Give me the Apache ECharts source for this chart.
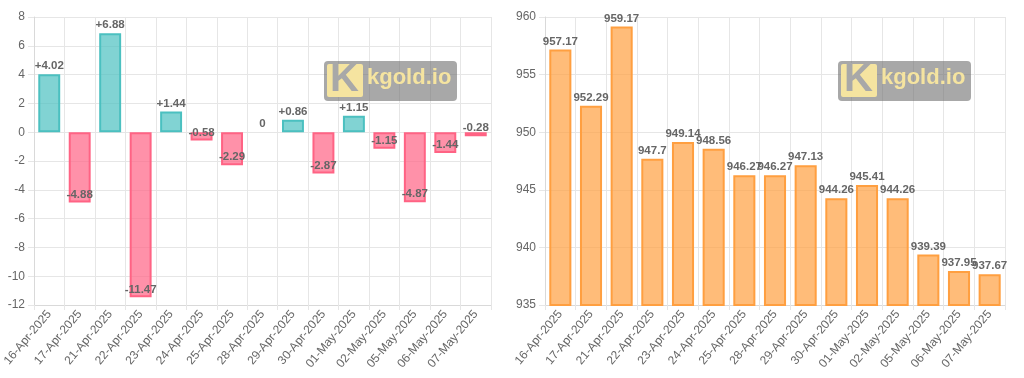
<!DOCTYPE html>
<html>
<head>
<meta charset="utf-8">
<script src="https://cdn.jsdelivr.net/npm/echarts@6/dist/echarts.min.js"></script>
<style>html,body{margin:0;padding:0;background:#fff}#c{width:1024px;height:378px}</style>
</head>
<body>
<div id="c"></div>
<script>
const categories = ['16-Apr-2025','17-Apr-2025','21-Apr-2025','22-Apr-2025','23-Apr-2025','24-Apr-2025','25-Apr-2025','28-Apr-2025','29-Apr-2025','30-Apr-2025','01-May-2025','02-May-2025','05-May-2025','06-May-2025','07-May-2025'];
const changeValues = [4.02, -4.88, 6.88, -11.47, 1.44, -0.58, -2.29, 0, 0.86, -2.87, 1.15, -1.15, -4.87, -1.44, -0.28];
const priceValues = [957.17, 952.29, 959.17, 947.7, 949.14, 948.56, 946.27, 946.27, 947.13, 944.26, 945.41, 944.26, 939.39, 937.95, 937.67];
const changeAxis = {min: -12, max: 8, interval: 2};
const priceAxis = {min: 935, max: 960, interval: 5};

const FONT = 'Liberation Sans, Arial, Helvetica, sans-serif';
const gridColor = '#e6e6e6';
const axisColor = '#d9d9d9';
const textColor = '#666';

function xAxisFor(idx) {
  return {
    type: 'category', gridIndex: idx, data: categories, boundaryGap: true,
    axisLine: {show: true, onZero: false, lineStyle: {color: axisColor}},
    axisTick: {show: true, length: 5, lineStyle: {color: gridColor}},
    splitLine: {show: true, lineStyle: {color: gridColor}},
    axisLabel: {rotate: 50, fontSize: 12, color: textColor, fontFamily: FONT, margin: 7, interval: 0}
  };
}
function yAxisFor(idx, a) {
  return {
    type: 'value', gridIndex: idx, min: a.min, max: a.max, interval: a.interval,
    axisLine: {show: true, lineStyle: {color: axisColor}},
    axisTick: {show: true, length: 6, lineStyle: {color: gridColor}},
    splitLine: {show: true, lineStyle: {color: gridColor}},
    axisLabel: {fontSize: 12, color: textColor, fontFamily: FONT, margin: 9}
  };
}

const teal = {fill: 'rgba(75,192,192,0.7)', border: 'rgb(75,192,192)'};
const pink = {fill: 'rgba(255,99,132,0.7)', border: 'rgb(255,99,132)'};
const orange = {fill: 'rgba(255,159,64,0.7)', border: 'rgb(255,159,64)'};

const changeData = changeValues.map(v => {
  const c = v >= 0 ? teal : pink;
  return {
    value: v,
    itemStyle: {color: c.fill, borderColor: c.border, borderWidth: v === 0 ? 0 : 2},
    label: {position: v >= 0 ? 'top' : 'insideBottom', distance: 2}
  };
});

function watermark(x, y) {
  return [
    {type: 'rect', left: x, top: y, z: 100, shape: {width: 133, height: 40, r: 4}, style: {fill: 'rgba(110,110,110,0.6)'}},
    {type: 'rect', left: x + 3, top: y + 3, z: 101, shape: {width: 36, height: 33, r: 2}, style: {fill: '#f5e4a0'}},
    {type: 'text', left: x + 6, top: y - 1, z: 102, style: {text: 'K', fill: '#a8a8a8', font: 'bold 40px ' + FONT}},
    {type: 'text', left: x + 43, top: y + 6, z: 102, style: {text: 'kgold.io', fill: '#f5e4a0', font: 'bold 22px ' + FONT}}
  ];
}

const chart = echarts.init(document.getElementById('c'), null, {renderer: 'canvas'});
chart.setOption({
  animation: false,
  textStyle: {fontFamily: FONT},
  grid: [
    {left: 29, top: 17, width: 462, height: 288, containLabel: false},
    {left: 545, top: 17, width: 460, height: 288, containLabel: false}
  ],
  xAxis: [xAxisFor(0), xAxisFor(1)],
  yAxis: [yAxisFor(0, changeAxis), yAxisFor(1, priceAxis)],
  series: [
    {
      type: 'bar', xAxisIndex: 0, yAxisIndex: 0, data: changeData, barWidth: '72%',
      label: {
        show: true, color: textColor, fontSize: 11.5, fontWeight: 'bold', fontFamily: FONT,
        formatter: p => (p.value > 0 ? '+' : '') + p.value
      }
    },
    {
      type: 'bar', xAxisIndex: 1, yAxisIndex: 1, data: priceValues, barWidth: '72%',
      itemStyle: {color: orange.fill, borderColor: orange.border, borderWidth: 2},
      label: {show: true, position: 'top', distance: 2, color: textColor, fontSize: 11.5, fontWeight: 'bold', fontFamily: FONT}
    }
  ],
  graphic: [...watermark(324, 61), ...watermark(838, 61)]
});
</script>
</body>
</html>
